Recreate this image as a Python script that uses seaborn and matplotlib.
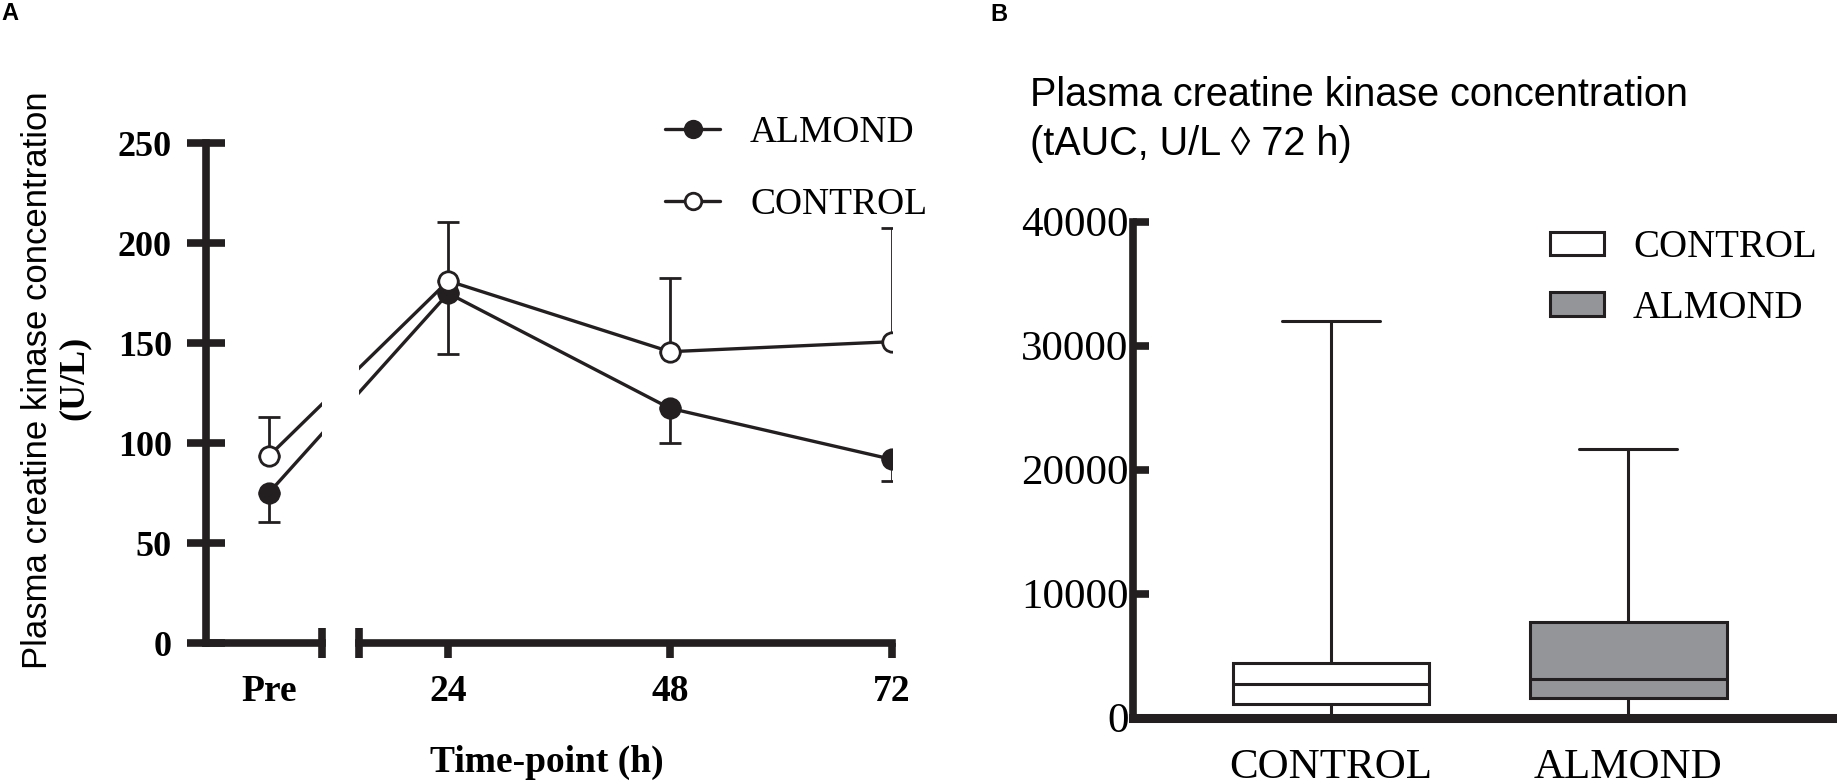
import matplotlib
matplotlib.use('Agg')
import matplotlib.pyplot as plt
import numpy as np
import pandas as pd
import seaborn as sns

# --- panel A: plasma CK at each time-point (mean, one-sided SD) ---
timepoints = ['Pre', '24', '48', '72']
pre_pos = 4.6          # where "Pre" sits on the broken time axis
hours = [pre_pos, 24, 48, 72]
almond_ck = [75.3, 175.0, 117.5, 92.0]
almond_sd = [14.5, 30.5, 17.2, 10.7]
control_ck = [93.7, 181.2, 145.8, 150.8]
control_sd = [19.6, 29.6, 36.7, 56.7]

# --- panel B: tAUC 0-72 h, box summaries ---
groups = ['CONTROL', 'ALMOND']
tauc_min = [100, 100]
tauc_q1 = [1090, 1600]
tauc_med = [2730, 3100]
tauc_q3 = [4370, 7680]
tauc_max = [32000, 21700]

sns.set_style('ticks')
plt.rcParams['font.family'] = ['Liberation Serif', 'DejaVu Serif']
plt.rcParams['text.color'] = 'black'
plt.rcParams['axes.edgecolor'] = 'black'
plt.rcParams['xtick.color'] = 'black'
plt.rcParams['ytick.color'] = 'black'
SANS = ['Liberation Sans', 'DejaVu Sans']
ink = '#231f20'

fig = plt.figure(figsize=(18.37, 7.83), dpi=100)

# broken x axis: two axes sharing one time scale
axA1 = fig.add_axes([0.1121, 0.1784, 0.0630, 0.6386])
axA2 = fig.add_axes([0.1954, 0.1784, 0.2900, 0.6386], sharey=axA1)

df_a = pd.DataFrame({
    'hour': hours * 2,
    'ck': almond_ck + control_ck,
    'group': ['ALMOND'] * 4 + ['CONTROL'] * 4,
})
series = [('ALMOND', ink, almond_sd, 'low'), ('CONTROL', 'white', control_sd, 'up')]

for ax in (axA1, axA2):
    for g, face, sd, side in series:
        sub = df_a[df_a['group'] == g]
        zeros = [0] * len(sd)
        yerr = [sd, zeros] if side == 'low' else [zeros, sd]
        ax.errorbar(sub['hour'], sub['ck'], yerr=yerr, fmt='none', ecolor=ink,
                    elinewidth=2, capsize=8, capthick=2, zorder=2)
        sns.lineplot(data=sub, x='hour', y='ck', ax=ax, errorbar=None,
                     color=ink, lw=2.4, marker='o', markersize=14,
                     markerfacecolor=face, markeredgecolor=ink,
                     markeredgewidth=2, label=g, zorder=3, legend=False)
    ax.set_xlabel('')
    ax.set_ylabel('')
    ax.set_ylim(0, 250)
    for s in ('top', 'right'):
        ax.spines[s].set_visible(False)
    ax.spines['bottom'].set_linewidth(5.5)
    ax.spines['left'].set_linewidth(5.5)
    ax.spines['bottom'].set_color(ink)
    ax.spines['left'].set_color(ink)

axA1.set_xlim(-2.23, 10.3)
axA2.set_xlim(14.33, 72)
axA2.spines['left'].set_visible(False)

axA1.set_yticks(np.arange(0, 251, 50))
axA1.tick_params(axis='y', left=True, direction='inout', length=27, width=5.5,
                 pad=11, labelsize=26, color=ink)
plt.setp(axA1.get_yticklabels(), fontweight='bold')
axA2.tick_params(axis='y', left=False, labelleft=False)

axA1.set_xticks([pre_pos])
axA1.set_xticklabels([timepoints[0]])
axA1.tick_params(axis='x', which='major', bottom=True, length=0, pad=22, labelsize=27)
axA1.set_xticks([10.3], minor=True)
axA1.tick_params(axis='x', which='minor', bottom=True, direction='inout',
                 length=22, width=5.5, color=ink)

axA2.set_xticks(hours[1:])
axA2.set_xticklabels(timepoints[1:])
axA2.tick_params(axis='x', which='major', bottom=True, direction='out', length=11,
                 width=5.5, pad=11, labelsize=27, color=ink)
axA2.set_xticks([14.33], minor=True)
axA2.tick_params(axis='x', which='minor', bottom=True, direction='inout',
                 length=22, width=5.5, color=ink)
for ax in (axA1, axA2):
    plt.setp(ax.get_xticklabels(), fontweight='bold')

h, l = axA2.get_legend_handles_labels()
axA2.legend(h, l, loc='upper left', bbox_to_anchor=(0.362, 0.852),
            bbox_transform=fig.transFigure, frameon=False, fontsize=27,
            handlelength=1.47, handletextpad=0.8, labelspacing=1.0,
            borderpad=0, borderaxespad=0, markerscale=0.85)

fig.text(0.2976, 0.026, 'Time-point (h)', ha='center', va='center',
         fontsize=27, fontweight='bold')
fig.text(0.0205, 0.514, 'Plasma creatine kinase concentration', rotation=90,
         ha='center', va='center', fontsize=25, family=SANS)
fig.text(0.0405, 0.518, '(U/L)', rotation=90, ha='center', va='center',
         fontsize=26, fontweight='bold')
fig.text(0.001, 0.997, 'A', ha='left', va='top', fontsize=17,
         fontweight='bold', family=SANS)

# --- panel B ---
axB = fig.add_axes([0.6166, 0.0836, 0.3834, 0.6332])
rows = []
for g, lo, a, m, b, hi in zip(groups, tauc_min, tauc_q1, tauc_med, tauc_q3, tauc_max):
    for v in (lo, a, m, b, hi):
        rows.append({'group': g, 'tauc': v})
df_b = pd.DataFrame(rows)

sns.boxplot(data=df_b, x='group', y='tauc', hue='group', order=groups,
            hue_order=groups, palette={'CONTROL': 'white', 'ALMOND': '#939598'},
            saturation=1, width=0.662, whis=(0, 100), linewidth=2.2,
            linecolor=ink, ax=axB, legend=True)

leg = axB.get_legend()
handles = leg.legend_handles
labels = [t.get_text() for t in leg.texts]
leg.remove()
axB.legend(handles, labels, loc='upper left', bbox_to_anchor=(0.8438, 0.707),
           bbox_transform=fig.transFigure, frameon=False, fontsize=28,
           handlelength=1.38, handleheight=0.55, handletextpad=0.75,
           labelspacing=0.6, borderpad=0, borderaxespad=0)

axB.set_xlim(-0.667, 1.702)
axB.set_ylim(0, 40000)
axB.set_yticks(np.arange(0, 40001, 10000))
axB.set_xlabel('')
axB.set_ylabel('')
axB.tick_params(axis='y', left=True, direction='in', length=11.5, width=5.5,
                pad=3, labelsize=31, color=ink)
axB.tick_params(axis='x', bottom=False, length=0, pad=22, labelsize=31)
for s in ('top', 'right'):
    axB.spines[s].set_visible(False)
axB.spines['left'].set_linewidth(5.5)
axB.spines['bottom'].set_linewidth(6.5)
axB.spines['left'].set_color(ink)
axB.spines['bottom'].set_color(ink)

fig.text(0.5607, 0.8646, 'Plasma creatine kinase concentration', ha='left',
         va='baseline', fontsize=28.5, family=SANS)
fig.text(0.5607, 0.802, '(tAUC, U/L \u25ca 72 h)', ha='left',
         va='baseline', fontsize=28.5, family=SANS)
fig.text(0.539, 0.996, 'B', ha='left', va='top', fontsize=17,
         fontweight='bold', family=SANS)

fig.savefig('out.png', dpi=100)
